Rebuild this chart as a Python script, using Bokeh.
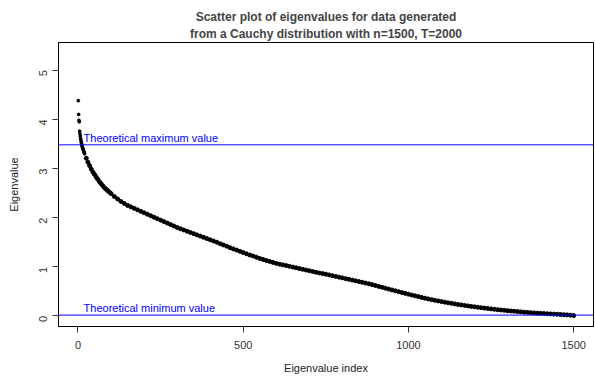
from bokeh.plotting import figure
from bokeh.models import Range1d, FixedTicker, Span, Label, Title
from bokeh.embed import file_html
from bokeh.resources import INLINE
import math

# ---- data ----
eigen_index = [1, 2, 3, 4, 5, 6, 7, 8, 9, 10, 11, 12, 13, 14, 15, 16, 17, 18, 19, 20,
               25, 30, 35, 40, 45, 50, 55, 60, 65, 70, 75, 80, 85, 90, 95, 100,
               110, 120, 130, 140, 150, 160, 170, 180, 190, 200,
               210, 220, 230, 240, 250, 260, 270, 280, 290, 300,
               310, 320, 330, 340, 350, 360, 370, 380, 390, 400,
               410, 420, 430, 440, 450, 460, 470, 480, 490, 500,
               510, 520, 530, 540, 550, 560, 570, 580, 590, 600,
               610, 620, 630, 640, 650, 660, 670, 680, 690, 700,
               710, 720, 730, 740, 750, 760, 770, 780, 790, 800,
               810, 820, 830, 840, 850, 860, 870, 880, 890, 900,
               910, 920, 930, 940, 950, 960, 970, 980, 990, 1000,
               1010, 1020, 1030, 1040, 1050, 1060, 1070, 1080, 1090, 1100,
               1110, 1120, 1130, 1140, 1150, 1160, 1170, 1180, 1190, 1200,
               1210, 1220, 1230, 1240, 1250, 1260, 1270, 1280, 1290, 1300,
               1310, 1320, 1330, 1340, 1350, 1360, 1370, 1380, 1390, 1400,
               1410, 1420, 1430, 1440, 1450, 1460, 1470, 1480, 1490, 1500]
eigen_value = [4.38, 4.10, 3.98, 3.95, 3.76, 3.71, 3.66, 3.61, 3.57, 3.53, 3.50, 3.47, 3.44, 3.42, 3.40, 3.38, 3.36, 3.34, 3.32, 3.30,
               3.21, 3.13, 3.06, 2.99, 2.93, 2.88, 2.83, 2.78, 2.73, 2.69, 2.65, 2.61, 2.58, 2.55, 2.52, 2.49,
               2.43, 2.38, 2.33, 2.29, 2.25, 2.22, 2.19, 2.16, 2.13, 2.10,
               2.07, 2.04, 2.01, 1.98, 1.95, 1.92, 1.89, 1.86, 1.83, 1.80,
               1.775, 1.75, 1.725, 1.70, 1.675, 1.65, 1.625, 1.60, 1.575, 1.55,
               1.525, 1.50, 1.47, 1.445, 1.42, 1.39, 1.365, 1.34, 1.315, 1.29,
               1.265, 1.24, 1.22, 1.195, 1.17, 1.15, 1.13, 1.11, 1.09, 1.07,
               1.055, 1.04, 1.025, 1.01, 0.995, 0.98, 0.965, 0.95, 0.935, 0.92,
               0.905, 0.89, 0.875, 0.862, 0.85, 0.835, 0.82, 0.805, 0.79, 0.775,
               0.76, 0.745, 0.73, 0.715, 0.70, 0.685, 0.67, 0.655, 0.638, 0.62,
               0.602, 0.585, 0.566, 0.548, 0.53, 0.512, 0.495, 0.478, 0.46, 0.443,
               0.426, 0.41, 0.394, 0.378, 0.362, 0.347, 0.333, 0.319, 0.306, 0.293,
               0.281, 0.269, 0.257, 0.246, 0.235, 0.225, 0.215, 0.205, 0.195, 0.186,
               0.177, 0.168, 0.16, 0.152, 0.144, 0.136, 0.129, 0.122, 0.115, 0.108,
               0.102, 0.096, 0.09, 0.084, 0.078, 0.073, 0.068, 0.063, 0.058, 0.054,
               0.05, 0.046, 0.042, 0.038, 0.034, 0.03, 0.026, 0.022, 0.017, 0.008]
theoretical_max = 3.482
theoretical_min = 0.018
x_ticks = [0, 500, 1000, 1500]
y_ticks = [0, 1, 2, 3, 4, 5]
title_lines = ["Scatter plot of eigenvalues for data generated",
               "from a Cauchy distribution with n=1500, T=2000"]

FONT = "Liberation Sans"

p = figure(width=595, height=379, output_backend="svg", toolbar_location=None,
           x_range=Range1d(-58.96, 1559.96), y_range=Range1d(-0.214, 5.564),
           min_border_left=58, min_border_right=2, min_border_top=42, min_border_bottom=53,
           x_axis_label="Eigenvalue index", y_axis_label="Eigenvalue")

p.grid.visible = False
p.outline_line_color = "black"
p.outline_line_width = 1
p.background_fill_color = "white"
p.border_fill_color = "white"

for ax in (p.xaxis[0], p.yaxis[0]):
    ax.axis_line_color = "black"
    ax.major_tick_out = 6
    ax.major_tick_in = 0
    ax.minor_tick_line_color = None
    ax.major_tick_line_color = "#333333"
    ax.major_label_text_font = FONT
    ax.major_label_text_font_size = "11px"
    ax.major_label_text_color = "#333333"
    ax.axis_label_text_font = FONT
    ax.axis_label_text_font_size = "11px"
    ax.axis_label_text_font_style = "normal"
    ax.axis_label_text_color = "#222222"

p.xaxis[0].ticker = FixedTicker(ticks=x_ticks)
p.yaxis[0].ticker = FixedTicker(ticks=y_ticks)
p.yaxis[0].major_label_orientation = math.pi / 2
p.xaxis[0].major_label_standoff = 8
p.yaxis[0].major_label_standoff = 9
p.xaxis[0].axis_label_standoff = 10
p.yaxis[0].axis_label_standoff = 13

n_sparse = 20
p.scatter(eigen_index[:n_sparse], eigen_value[:n_sparse], size=2.8, color="black")
p.scatter(eigen_index[n_sparse:], eigen_value[n_sparse:], size=4, color="black")

p.add_layout(Span(location=theoretical_max, dimension="width", line_color="blue", line_width=1))
p.add_layout(Span(location=theoretical_min, dimension="width", line_color="blue", line_width=1))

p.add_layout(Label(x=17, y=theoretical_max, text="Theoretical maximum value", text_color="blue",
                   text_font=FONT, text_font_size="11px", text_baseline="bottom", y_offset=1))
p.add_layout(Label(x=17, y=theoretical_min, text="Theoretical minimum value", text_color="blue",
                   text_font=FONT, text_font_size="11px", text_baseline="bottom", y_offset=1))

# invisible spacer between frame and title block
p.add_layout(Title(text=".", text_font_size="2px", text_alpha=0, standoff=6), "above")
p.add_layout(Title(text=title_lines[1], align="center", text_font=FONT, text_font_size="12px",
                   text_font_style="bold", standoff=3), "above")
p.add_layout(Title(text=title_lines[0], align="center", text_font=FONT, text_font_size="12px",
                   text_font_style="bold", standoff=0), "above")

open("out.html", "w").write(file_html(p, INLINE))
